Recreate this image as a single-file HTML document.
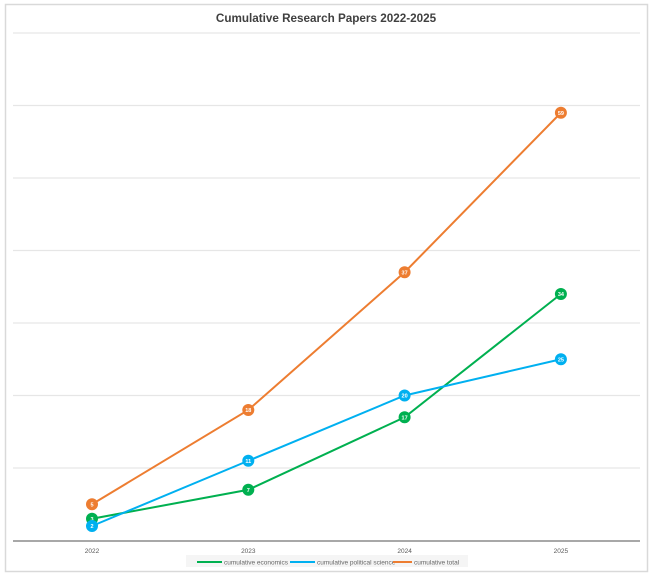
<!DOCTYPE html>
<html><head><meta charset="utf-8"><style>
html,body{margin:0;padding:0;background:#fff;}
body{width:652px;height:576px;overflow:hidden;font-family:"Liberation Sans",sans-serif;}
</style></head><body>
<svg id="chart" width="652" height="576" xmlns="http://www.w3.org/2000/svg">
<rect x="5.5" y="4.5" width="642" height="567" fill="#fff" stroke="#d9d9d9" stroke-width="1.5"/>
<text x="326" y="22" text-anchor="middle" font-size="11.7" font-weight="bold" fill="#404040">Cumulative Research Papers 2022-2025</text>
<g id="grid"></g><g id="axis"></g><g id="series"></g>
<g>
<rect x="186" y="555" width="282" height="12" fill="#f5f5f5"/>
<line x1="197" y1="562" x2="222" y2="562" stroke="#00b050" stroke-width="2"/>
<text x="224" y="564.5" font-size="6.5" fill="#666">cumulative economics</text>
<line x1="290" y1="562" x2="315" y2="562" stroke="#00b0f0" stroke-width="2"/>
<text x="317" y="564.5" font-size="6.5" fill="#666">cumulative political science</text>
<line x1="393" y1="562" x2="412" y2="562" stroke="#ed7d31" stroke-width="2"/>
<text x="414" y="564.5" font-size="6.5" fill="#666">cumulative total</text>
</g>
</svg>
<script>
const years=["2022","2023","2024","2025"];
const economics=[3,7,17,34];
const politicalScience=[2,11,20,25];
const total=[5,18,37,59];
const yTicks=[0,10,20,30,40,50,60,70];
const NS="http://www.w3.org/2000/svg";
function xS(i){return 92+i*156.3;}
function yS(v){return 540.5-v*(507.5/70);}
function mk(t,a,p){const e=document.createElementNS(NS,t);for(const k in a)e.setAttribute(k,a[k]);p.appendChild(e);return e;}
const grid=document.getElementById('grid');
yTicks.forEach(v=>{if(v===0)return;const l=mk('line',{x1:13,x2:640,y1:yS(v),y2:yS(v),stroke:'#e6e6e6','stroke-width':1.2},grid);

});
const ax=document.getElementById('axis');
const al=mk('line',{x1:13,x2:640,y1:541,y2:541,stroke:'#8c8c8c','stroke-width':1.5},ax);


years.forEach((y,i)=>{const t=mk('text',{x:xS(i),y:553,'text-anchor':'middle','font-size':6.5,fill:'#595959'},ax);t.textContent=y;

});
const sg=document.getElementById('series');
[[economics,'#00b050','economics'],[politicalScience,'#00b0f0','political-science'],[total,'#ed7d31','total']].forEach(([d,c,n])=>{
const pl=mk('polyline',{points:d.map((v,i)=>xS(i)+','+yS(v)).join(' '),fill:'none',stroke:c,'stroke-width':2},sg);


d.forEach((v,i)=>{const g=mk('g',{},sg);


mk('circle',{cx:xS(i),cy:yS(v),r:6,fill:c},g);
const t=mk('text',{x:xS(i),y:yS(v)+2,'text-anchor':'middle','font-size':5.5,'font-weight':'bold',fill:'#fff'},g);t.textContent=v;});
});
</script>
</body></html>
